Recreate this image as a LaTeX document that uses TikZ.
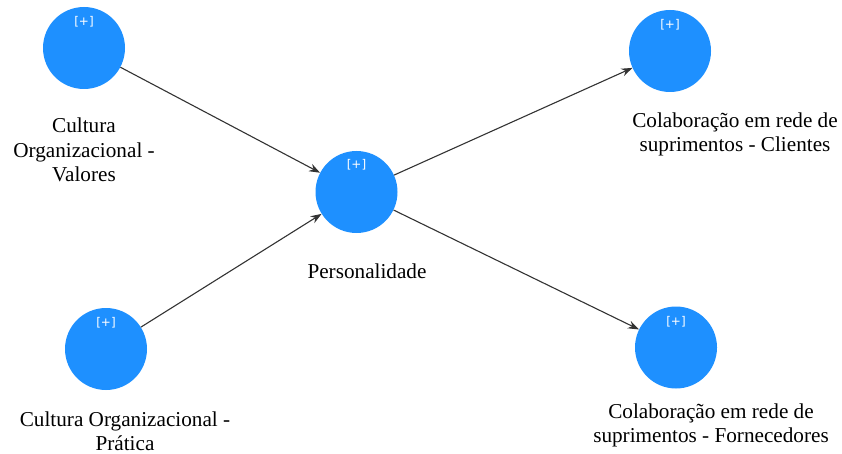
\documentclass[tikz,border=0pt]{standalone}
\usepackage{fontspec}
\setmainfont{Liberation Serif}
\newfontfamily\labelfont{Liberation Serif}
\newfontfamily\plusfont{DejaVu Sans}
\usetikzlibrary{arrows.meta}
\definecolor{lvblue}{HTML}{1E90FF}
\definecolor{pathgray}{HTML}{333333}
\begin{document}
\begin{tikzpicture}[x=1pt,y=-1pt,
  latent/.style={circle,fill=lvblue,minimum size=82pt,inner sep=0pt},
  plus/.style={text=white,font=\plusfont\fontsize{12}{13}\selectfont,inner sep=0pt},
  lbl/.style={align=center,font=\labelfont\fontsize{21.2}{24.5}\selectfont,inner sep=0pt},
  relpath/.style={draw=pathgray,line width=1.1pt,-{Stealth[length=11pt,width=8pt]}}]
\useasboundingbox (0,0) rectangle (842,454);

% latent variables
\node[latent] (val)  at (84,48)    {};
\node[latent] (prat) at (106,349)  {};
\node[latent] (pers) at (356.5,192) {};
\node[latent] (cli)  at (670,51)   {};
\node[latent] (forn) at (676,347.5) {};

% expand markers
\node[plus] (valp)  at (84,22)   {[+]};
\node[plus] (pratp) at (106,323) {[+]};
\node[plus] (persp) at (356.5,165) {[+]};
\node[plus] (clip)  at (670,25)  {[+]};
\node[plus] (fornp) at (676,322) {[+]};

% labels
\node[lbl] (valT)  at (84,150)   {Cultura\\Organizacional -\\Valores};
\node[lbl] (pratT) at (125,431)  {Cultura Organizacional -\\Prática};
\node[lbl] (persT) at (367,271)  {Personalidade};
\node[lbl] (cliT)  at (735,134.5) {Colaboração em rede de\\suprimentos - Clientes};
\node[lbl] (fornT) at (711,425.5) {Colaboração em rede de\\suprimentos - Fornecedores};

% structural paths
\draw[relpath] (val)  -- (pers);
\draw[relpath] (prat) -- (pers);
\draw[relpath] (pers) -- (cli);
\draw[relpath] (pers) -- (forn);
\end{tikzpicture}
\end{document}
